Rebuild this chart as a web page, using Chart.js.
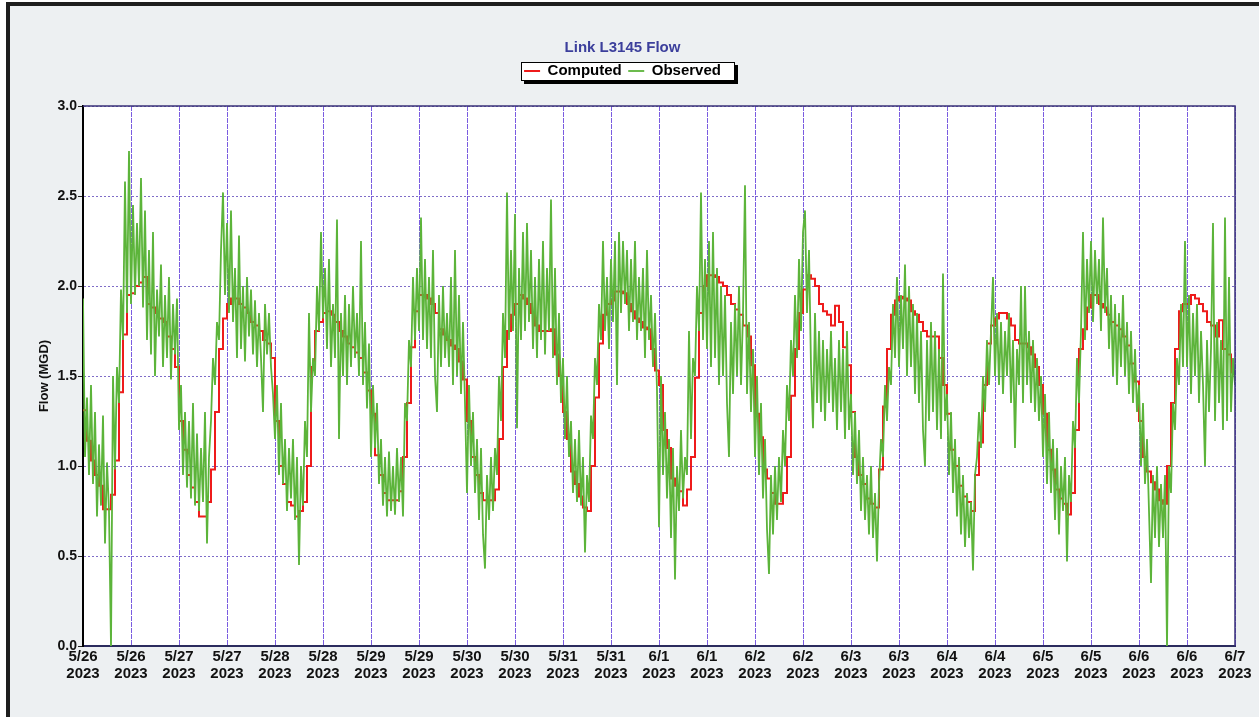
<!DOCTYPE html>
<html>
<head>
<meta charset="utf-8">
<title>Link L3145 Flow</title>
<script src="https://cdn.jsdelivr.net/npm/chart.js@4.4.1/dist/chart.umd.min.js"></script>
<style>
    html, body {
        margin: 0;
        padding: 0;
        background: #ffffff;
        overflow: hidden;
    }

    .frame {
        position: absolute;
        left: 6px;
        top: 2px;
        width: 1249px;
        height: 711px;
        border-top: 4px solid #1e1e1e;
        border-left: 4px solid #1e1e1e;
        background: #edf0f2;
    }

    .frame canvas {
        display: block;
    }
</style>
</head>
<body>
<div class="frame"><canvas id="flowChart" width="1249" height="711"></canvas></div>
<script>
// x axis: one tick every 12 hours starting 5/26 00:00
var tickDates = ["5/26", "5/26", "5/27", "5/27", "5/28", "5/28", "5/29", "5/29", "5/30", "5/30", "5/31", "5/31",
    "6/1", "6/1", "6/2", "6/2", "6/3", "6/3", "6/4", "6/4", "6/5", "6/5", "6/6", "6/6", "6/7"];
var tickYear = "2023";
var tickStepHours = 12;

// computed flow, hourly (MGD)
var computedStepHours = 1;
var computed = [
    1.31, 1.14, 1.03, 0.95, 0.89, 0.76, 0.76, 0.84, 1.03, 1.41, 1.73, 1.95, 1.96, 2.00, 2.02, 2.05, 1.90, 1.88, 1.85, 1.82, 1.80, 1.72, 1.65, 1.55,
    1.25, 1.09, 0.95, 0.88, 0.80, 0.72, 0.72, 0.80, 0.98, 1.30, 1.65, 1.82, 1.90, 1.93, 1.93, 1.90, 1.88, 1.85, 1.80, 1.78, 1.75, 1.70, 1.68, 1.60,
    1.25, 1.00, 0.90, 0.80, 0.78, 0.72, 0.75, 0.80, 1.00, 1.55, 1.75, 1.80, 1.85, 1.86, 1.84, 1.80, 1.75, 1.72, 1.68, 1.66, 1.63, 1.60, 1.52, 1.42,
    1.29, 1.06, 0.95, 0.85, 0.81, 0.81, 0.81, 0.86, 1.05, 1.35, 1.66, 1.86, 1.95, 1.95, 1.93, 1.90, 1.85, 1.76, 1.73, 1.70, 1.67, 1.65, 1.58, 1.48,
    1.25, 1.05, 0.95, 0.85, 0.81, 0.81, 0.81, 0.87, 1.15, 1.55, 1.75, 1.84, 1.90, 1.95, 1.93, 1.90, 1.85, 1.78, 1.75, 1.75, 1.75, 1.76, 1.62, 1.50,
    1.30, 1.15, 0.97, 0.90, 0.83, 0.77, 0.75, 1.00, 1.38, 1.68, 1.84, 1.90, 1.92, 1.97, 1.97, 1.96, 1.90, 1.86, 1.82, 1.80, 1.77, 1.76, 1.65, 1.53,
    1.45, 1.20, 1.10, 0.93, 0.89, 0.86, 0.78, 0.87, 1.05, 1.49, 1.85, 2.00, 2.06, 2.06, 2.05, 2.02, 2.00, 1.95, 1.90, 1.87, 1.84, 1.78, 1.72, 1.56,
    1.29, 1.16, 0.98, 0.93, 0.85, 0.79, 0.79, 0.85, 1.05, 1.39, 1.65, 1.85, 1.98, 2.06, 2.04, 2.00, 1.90, 1.86, 1.84, 1.78, 1.89, 1.80, 1.66, 1.56,
    1.30, 1.05, 0.95, 0.90, 0.82, 0.79, 0.77, 0.98, 1.33, 1.65, 1.84, 1.92, 1.94, 1.93, 1.92, 1.86, 1.84, 1.80, 1.75, 1.72, 1.72, 1.72, 1.60, 1.45,
    1.29, 1.09, 1.00, 0.89, 0.83, 0.80, 0.75, 0.95, 1.13, 1.45, 1.68, 1.78, 1.82, 1.85, 1.85, 1.82, 1.78, 1.70, 1.68, 1.68, 1.66, 1.62, 1.55, 1.45,
    1.29, 1.09, 0.98, 0.87, 0.82, 0.79, 0.73, 0.85, 1.20, 1.65, 1.76, 1.88, 1.95, 1.95, 1.90, 1.88, 1.84, 1.80, 1.78, 1.76, 1.72, 1.67, 1.57, 1.47,
    1.25, 1.05, 0.97, 0.91, 0.87, 0.81, 0.79, 1.00, 1.35, 1.65, 1.86, 1.90, 1.90, 1.95, 1.93, 1.90, 1.86, 1.80, 1.78, 1.72, 1.81, 1.65, 1.62, 1.52,
    1.50
];

// observed flow, every 30 minutes (MGD)
var observedStepHours = 0.5;
var observed = [
    1.93, 1.05, 1.38, 0.95, 1.45, 0.90, 1.30, 0.72, 1.12, 0.78, 1.28, 0.57, 1.02, 0.75, 0.00, 1.50, 0.98, 1.55, 1.35, 1.98, 1.70, 2.58, 1.85, 2.75,
    1.90, 2.45, 1.95, 2.35, 2.00, 2.60, 1.88, 2.42, 1.70, 2.20, 1.62, 2.30, 1.50, 1.98, 1.72, 2.12, 1.55, 1.95, 1.60, 2.05, 1.48, 1.90, 1.62, 1.93,
    1.20, 1.45, 0.95, 1.30, 0.88, 1.25, 0.82, 1.35, 0.78, 1.18, 0.75, 1.10, 0.80, 1.30, 0.57, 1.05, 1.25, 1.60, 1.45, 1.80, 1.70, 2.20, 2.52, 1.95,
    2.35, 1.85, 2.42, 1.80, 2.10, 1.60, 2.28, 1.65, 2.00, 1.58, 2.05, 1.72, 1.98, 1.62, 1.92, 1.55, 1.85, 1.60, 1.30, 1.90, 1.62, 1.85, 1.55, 1.40,
    1.15, 1.45, 0.95, 1.35, 0.90, 1.15, 0.75, 1.10, 0.82, 1.15, 0.70, 1.05, 0.45, 1.00, 0.78, 1.25, 1.05, 1.85, 1.30, 1.60, 1.50, 2.00, 1.75, 2.30,
    1.82, 2.10, 1.65, 2.15, 1.55, 1.90, 1.60, 2.37, 1.15, 1.85, 1.50, 1.95, 1.45, 1.90, 1.55, 2.00, 1.60, 1.85, 1.50, 2.25, 1.45, 1.80, 1.32, 1.68,
    1.05, 1.45, 1.10, 1.35, 0.90, 1.15, 0.78, 1.05, 0.72, 1.08, 0.75, 1.00, 0.73, 1.10, 0.80, 1.05, 0.72, 1.35, 1.25, 1.70, 1.55, 2.05, 1.70, 2.10,
    1.75, 2.38, 1.70, 2.15, 1.65, 2.05, 1.60, 2.20, 1.50, 1.30, 1.95, 1.55, 2.00, 1.60, 1.85, 1.55, 2.05, 1.45, 2.20, 1.50, 1.95, 1.40, 1.80, 1.35,
    0.85, 1.45, 1.00, 1.30, 0.85, 1.15, 0.70, 1.10, 0.62, 0.43, 0.95, 0.70, 1.05, 0.75, 1.10, 0.95, 1.50, 1.25, 1.85, 1.60, 2.52, 1.70, 2.20, 1.75,
    2.40, 1.21, 2.10, 1.70, 2.30, 1.75, 2.35, 1.80, 2.20, 1.65, 2.05, 1.60, 2.15, 1.70, 2.25, 1.62, 2.10, 1.75, 2.48, 1.60, 2.10, 1.45, 1.85, 1.35,
    1.60, 1.15, 1.50, 1.05, 1.25, 0.85, 1.15, 0.80, 1.20, 0.78, 1.05, 0.52, 0.95, 0.80, 1.28, 1.15, 1.60, 1.45, 1.90, 1.70, 2.25, 1.75, 2.05, 1.65,
    2.15, 1.80, 2.25, 1.45, 2.30, 1.85, 2.25, 1.90, 2.20, 1.75, 2.15, 1.80, 2.25, 1.70, 2.05, 1.75, 2.10, 1.60, 2.20, 1.70, 1.95, 1.55, 1.85, 1.42,
    0.66, 1.50, 0.95, 1.30, 0.82, 1.15, 0.60, 1.10, 0.37, 1.00, 0.75, 1.20, 0.82, 1.05, 0.95, 1.75, 1.15, 1.60, 1.50, 2.00, 1.75, 2.52, 1.70, 2.15,
    1.65, 2.25, 1.55, 2.30, 1.60, 2.10, 1.45, 2.00, 1.50, 1.95, 1.35, 1.05, 1.80, 1.40, 1.90, 1.50, 2.00, 1.45, 1.85, 2.56, 1.40, 1.80, 1.30, 1.65,
    1.05, 1.50, 0.95, 1.35, 0.82, 1.15, 0.65, 0.40, 0.95, 0.62, 1.00, 0.70, 1.05, 0.80, 1.20, 1.00, 1.45, 1.25, 1.70, 1.50, 1.95, 1.60, 2.15, 1.75,
    2.30, 2.42, 1.85, 2.20, 1.55, 1.21, 1.85, 1.35, 1.75, 1.30, 1.70, 1.25, 1.65, 1.35, 1.75, 1.30, 1.60, 1.20, 1.70, 1.30, 1.65, 1.15, 1.75, 1.20,
    1.40, 0.95, 1.30, 0.90, 1.20, 0.75, 1.05, 0.70, 0.95, 0.62, 1.00, 0.60, 0.85, 0.47, 0.90, 1.15, 1.05, 1.45, 1.25, 1.55, 1.45, 1.90, 1.60, 2.05,
    1.55, 1.95, 1.65, 2.12, 1.50, 2.00, 1.55, 1.90, 1.40, 1.85, 1.35, 1.75, 1.20, 1.00, 1.70, 1.25, 1.80, 1.30, 1.75, 1.20, 1.65, 1.15, 2.07, 1.25,
    1.40, 0.95, 1.30, 0.85, 1.15, 0.72, 1.05, 0.62, 0.95, 0.55, 0.85, 0.60, 0.80, 0.42, 0.95, 1.05, 1.30, 1.10, 1.50, 1.30, 1.70, 1.45, 1.75, 2.05,
    1.50, 1.85, 1.45, 1.80, 1.40, 1.75, 1.50, 1.85, 1.35, 1.70, 1.10, 1.65, 1.45, 2.00, 1.35, 2.00, 1.45, 1.75, 1.35, 1.70, 1.30, 1.60, 1.25, 1.50,
    1.05, 1.40, 0.90, 1.30, 0.85, 1.15, 0.70, 1.10, 0.62, 1.00, 0.75, 1.05, 0.47, 0.95, 0.80, 1.25, 1.10, 1.60, 1.35, 1.75, 2.30, 1.70, 2.15, 1.85,
    2.25, 1.80, 2.20, 1.90, 2.15, 1.75, 2.38, 1.85, 2.10, 1.65, 1.95, 1.50, 1.90, 1.45, 1.85, 1.55, 1.95, 1.50, 1.80, 1.40, 1.75, 1.35, 1.65, 1.30,
    1.45, 1.00, 1.35, 0.90, 1.15, 0.75, 0.35, 0.95, 0.60, 1.00, 0.55, 0.90, 0.60, 0.95, 0.00, 1.00, 0.85, 1.35, 1.20, 1.60, 1.45, 1.90, 1.55, 2.25,
    1.55, 1.95, 1.40, 1.85, 1.50, 1.90, 1.35, 1.75, 1.45, 1.00, 1.70, 1.30, 1.65, 2.35, 1.25, 1.80, 1.35, 1.70, 1.20, 2.38, 1.25, 2.05, 1.30, 1.60,
    1.45
];

(function() {
    "use strict";

    var FONT = "Arial, 'Liberation Sans', sans-serif";
    var GRID_COLOR = "#7f6cc8";
    var VGRID_COLOR = "#7a5ce0";
    var FRAME_COLOR = "#3a3278";

    function toPoints(values, stepHours) {
        return values.map(function(v, i) {
            return { x: i * stepHours, y: v };
        });
    }

    // adds empty space under the legend so the plot starts lower
    var legendMargin = {
        id: "legendMargin",
        beforeInit: function(chart) {
            var originalFit = chart.legend.fit;
            chart.legend.fit = function() {
                originalFit.bind(chart.legend)();
                this.height += 17.5;
            };
        }
    };

    var frameBoxes = {
        id: "frameBoxes",
        beforeDraw: function(chart) {
            var ctx = chart.ctx;
            var area = chart.chartArea;

            ctx.save();
            ctx.fillStyle = "#ffffff";
            ctx.fillRect(area.left, area.top, area.right - area.left, area.bottom - area.top);

            var boxes = chart.legend.legendHitBoxes;
            if (boxes && boxes.length) {
                var first = boxes[0];
                var last = boxes[boxes.length - 1];
                var x = Math.round(first.left - 3);
                var y = Math.round(first.top - 2);
                var w = Math.round(last.left + last.width + 14) - x;
                var h = Math.round(first.height + 4);

                ctx.fillStyle = "#000000";
                ctx.fillRect(x + 3, y + 3, w, h);
                ctx.fillStyle = "#ffffff";
                ctx.fillRect(x, y, w, h);
                ctx.strokeStyle = "#000000";
                ctx.lineWidth = 1;
                ctx.strokeRect(x + 0.5, y + 0.5, w - 1, h - 1);
            }
            ctx.restore();
        },
        afterDraw: function(chart) {
            var ctx = chart.ctx;
            var area = chart.chartArea;

            ctx.save();
            ctx.strokeStyle = FRAME_COLOR;
            ctx.lineWidth = 1.5;
            ctx.beginPath();
            ctx.moveTo(area.left, area.top);
            ctx.lineTo(area.right, area.top);
            ctx.lineTo(area.right, area.bottom);
            ctx.stroke();
            ctx.restore();
        }
    };

    function createFlowChart() {
        var canvas = document.getElementById("flowChart");

        if (!canvas || typeof Chart === "undefined") {
            return;
        }

        new Chart(canvas.getContext("2d"), {
            type: "line",
            data: {
                datasets: [{
                        label: "Computed",
                        data: toPoints(computed, computedStepHours),
                        borderColor: "#ee1b1b",
                        backgroundColor: "#ee1b1b",
                        borderWidth: 2,
                        stepped: true,
                        pointRadius: 0,
                        fill: false,
                        order: 2
                    },
                    {
                        label: "Observed",
                        data: toPoints(observed, observedStepHours),
                        borderColor: "#5cb43a",
                        backgroundColor: "#5cb43a",
                        borderWidth: 1.8,
                        tension: 0,
                        pointRadius: 0,
                        fill: false,
                        order: 1
                    }
                ]
            },
            options: {
                responsive: false,
                animation: false,
                devicePixelRatio: 1,
                layout: {
                    padding: {
                        left: 0,
                        right: 24,
                        top: 0,
                        bottom: 0
                    }
                },
                plugins: {
                    title: {
                        display: true,
                        text: "Link L3145 Flow",
                        color: "#3c3f9c",
                        font: {
                            family: FONT,
                            size: 15,
                            weight: "bold"
                        },
                        padding: {
                            top: 33,
                            bottom: 0
                        }
                    },
                    legend: {
                        display: true,
                        position: "top",
                        labels: {
                            usePointStyle: true,
                            pointStyle: "line",
                            pointStyleWidth: 16,
                            padding: 6.5,
                            color: "#000000",
                            font: {
                                family: FONT,
                                size: 15,
                                weight: "bold"
                            },
                            sort: function(a, b) {
                                return a.datasetIndex - b.datasetIndex;
                            }
                        }
                    },
                    tooltip: {
                        enabled: false
                    }
                },
                scales: {
                    x: {
                        type: "linear",
                        min: 0,
                        max: 288,
                        afterFit: function(scale) {
                            scale.height = 71;
                            scale.paddingLeft = 0;
                            scale.paddingRight = 0;
                        },
                        grid: {
                            color: VGRID_COLOR,
                            lineWidth: 1,
                            drawTicks: false
                        },
                        border: {
                            display: true,
                            color: "#2b2b5e",
                            width: 2,
                            dash: [5, 1]
                        },
                        ticks: {
                            stepSize: tickStepHours,
                            autoSkip: false,
                            maxRotation: 0,
                            minRotation: 0,
                            padding: 2,
                            color: "#111111",
                            font: {
                                family: FONT,
                                size: 15,
                                weight: "bold",
                                lineHeight: 1.15
                            },
                            callback: function(value) {
                                return [tickDates[Math.round(value / tickStepHours)], tickYear];
                            }
                        }
                    },
                    y: {
                        min: 0,
                        max: 3,
                        afterFit: function(scale) {
                            scale.width = 73;
                            scale.paddingTop = 0;
                            scale.paddingBottom = 0;
                        },
                        grid: {
                            color: GRID_COLOR,
                            lineWidth: 1,
                            tickLength: 5,
                            tickColor: "#222222"
                        },
                        border: {
                            display: true,
                            color: "#000000",
                            width: 2,
                            dash: [2, 2]
                        },
                        ticks: {
                            stepSize: 0.5,
                            padding: 1,
                            color: "#111111",
                            font: {
                                family: FONT,
                                size: 14,
                                weight: "bold"
                            },
                            callback: function(value) {
                                return value.toFixed(1);
                            }
                        },
                        title: {
                            display: true,
                            text: "Flow (MGD)",
                            color: "#111111",
                            font: {
                                family: FONT,
                                size: 13,
                                weight: "bold"
                            },
                            padding: {
                                top: 27,
                                bottom: 0
                            }
                        }
                    }
                }
            },
            plugins: [legendMargin, frameBoxes]
        });
    }

    createFlowChart();
})();
</script>
</body>
</html>
